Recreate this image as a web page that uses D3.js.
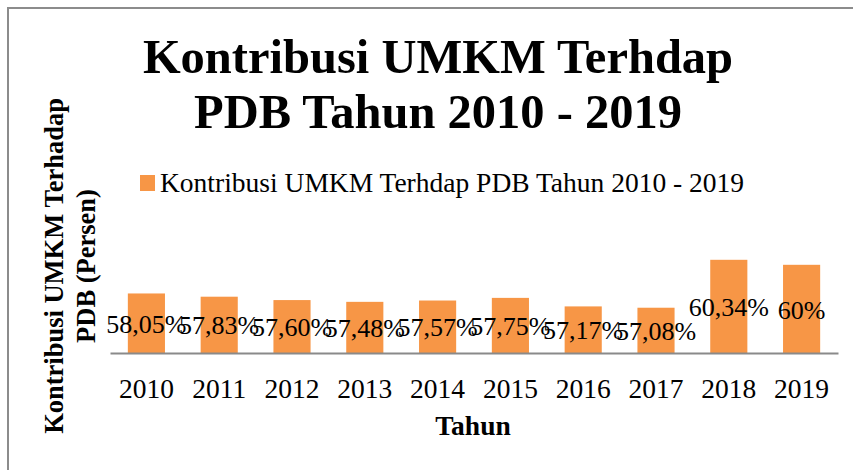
<!DOCTYPE html>
<html>
<head>
<meta charset="utf-8">
<script src="https://cdn.jsdelivr.net/npm/d3@7"></script>
<style>
  body { margin: 0; background: #fff; }
  svg { display: block; }
  text { fill: #000; }
</style>
</head>
<body>
<svg width="853" height="470"></svg>
<script>
(function (d3) {
    'use strict';

    const years = ['2010', '2011', '2012', '2013', '2014', '2015', '2016', '2017', '2018', '2019'];
    const values = [58.05, 57.83, 57.60, 57.48, 57.57, 57.75, 57.17, 57.08, 60.34, 60];
    const labels = ['58,05%', '57,83%', '57,60%', '57,48%', '57,57%', '57,75%', '57,17%', '57,08%', '60,34%', '60%'];
    const titleLines = ['Kontribusi UMKM Terhdap', 'PDB Tahun 2010 - 2019'];
    const yTitleLines = ['Kontribusi UMKM Terhadap', 'PDB (Persen)'];
    const seriesName = 'Kontribusi UMKM Terhdap PDB Tahun 2010 - 2019';

    const svg = d3.select('svg');
    const serif = "'Liberation Serif', 'Times New Roman', serif";

    // chart frame (only top and left edges show)
    svg.append('path')
      .attr('d', 'M8,470 L8,8 L853,8')
      .attr('fill', 'none')
      .attr('stroke', '#8c8c8c')
      .attr('stroke-width', 2);

    // title
    svg.append('text')
      .attr('text-anchor', 'middle')
      .style('font', "bold 48.5px " + serif)
      .selectAll('tspan').data(titleLines)
      .enter().append('tspan')
        .attr('x', 438)
        .attr('y', (d, i) => 73 + i * 55)
        .text(d => d);

    // legend
    svg.append('rect')
      .attr('x', 140).attr('y', 175)
      .attr('width', 15).attr('height', 16)
      .attr('fill', '#f79646');
    svg.append('text')
      .attr('x', 160).attr('y', 192)
      .style('font', "27.5px " + serif)
      .text(seriesName);

    const x = d3.scaleBand()
      .domain(years)
      .range([110, 838])
      .paddingInner(0.49)
      .paddingOuter(0.245);

    const y = d3.scaleLinear()
      .domain([54, 62])
      .range([353, 235.4]);

    svg.selectAll('rect.bar').data(values)
      .enter().append('rect')
        .attr('class', 'bar')
        .attr('x', (d, i) => x(years[i]))
        .attr('y', d => y(d))
        .attr('width', x.bandwidth())
        .attr('height', d => y(54) - y(d))
        .attr('fill', '#f79646');

    const xAxis = svg.append('g')
      .attr('transform', 'translate(0,353)')
      .call(d3.axisBottom(x).tickSize(0).tickSizeOuter(0).tickPadding(25));
    xAxis.select('.domain')
      .attr('stroke', '#8a8a8a')
      .attr('stroke-width', 2);
    xAxis.selectAll('text')
      .style('font', "27.5px " + serif)
      .attr('fill', '#000');

    // data labels, centred in the bars
    svg.selectAll('text.lbl').data(values)
      .enter().append('text')
        .attr('class', 'lbl')
        .attr('x', (d, i) => x(years[i]) + x.bandwidth() / 2)
        .attr('y', d => (y(d) + y(54)) / 2)
        .attr('dy', '0.37em')
        .attr('text-anchor', 'middle')
        .style('font', "26px " + serif)
        .text((d, i) => labels[i]);

    // axis titles
    svg.append('text')
      .attr('x', 473).attr('y', 435)
      .attr('text-anchor', 'middle')
      .style('font', "bold 27.5px " + serif)
      .text('Tahun');

    svg.append('g')
      .attr('transform', 'translate(63,266) rotate(-90)')
      .selectAll('text').data(yTitleLines)
      .enter().append('text')
        .attr('x', 0)
        .attr('y', (d, i) => i * 32)
        .attr('text-anchor', 'middle')
        .style('font', "bold 26.5px " + serif)
        .text(d => d);
}(d3));
</script>
</body>
</html>
